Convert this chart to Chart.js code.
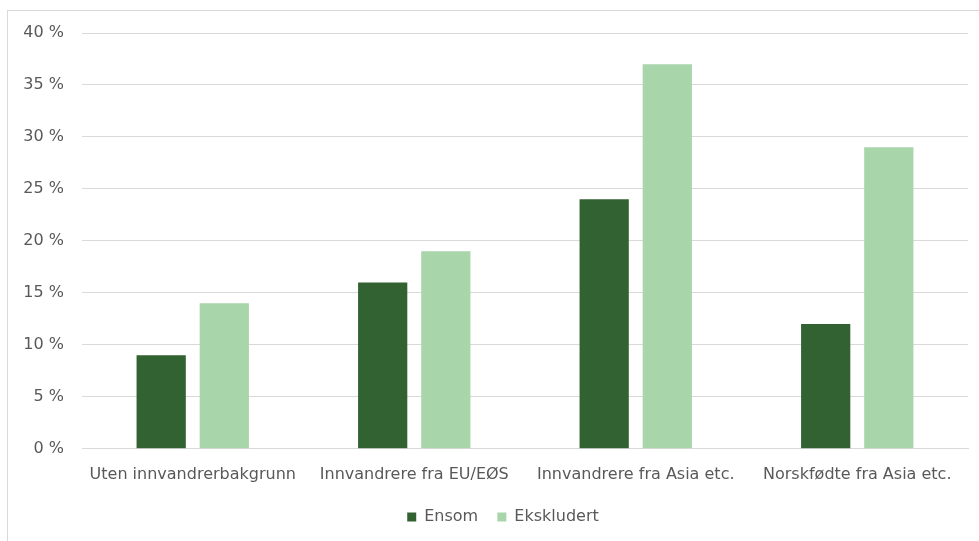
<!DOCTYPE html>
<html lang="no">
<head>
    <meta charset="UTF-8">
    <title>Ensom og ekskludert</title>
    <script src="https://cdn.jsdelivr.net/npm/chart.js"></script>
    <style>
        body {
            margin: 0;
            background: #ffffff;
            overflow: hidden;
        }
        #wrap {
            position: relative;
            width: 1006px;
            height: 541px;
        }
        #frame {
            position: absolute;
            left: 7px;
            top: 10px;
            width: 990px;
            height: 540px;
            border: 1px solid #d9d9d9;
        }
    </style>
</head>
<body>

<div id="wrap">
    <div id="frame"></div>
    <canvas id="chart"></canvas>
</div>

<script>
    // values in percent
    const categories = ['Uten innvandrerbakgrunn', 'Innvandrere fra EU/EØS', 'Innvandrere fra Asia etc.', 'Norskfødte fra Asia etc.'];
    const ensom = [9, 16, 24, 12];
    const ekskludert = [14, 19, 37, 29];
    const seriesNames = ['Ensom', 'Ekskludert'];

    Chart.defaults.font.family = "'DejaVu Sans', Verdana, sans-serif";
    Chart.defaults.color = '#595959';

    // nudge the legend a bit to the right, like the original
    const legendShift = {
        id: 'legendShift',
        afterLayout: function(chart) {
            chart.legend.left += 14;
            chart.legend.right += 14;
        }
    };

    new Chart(document.getElementById('chart'), {
        type: 'bar',
        data: {
            labels: categories,
            datasets: [{
                label: seriesNames[0],
                data: ensom,
                backgroundColor: '#326231',
                categoryPercentage: 0.57,
                barPercentage: 0.78
            }, {
                label: seriesNames[1],
                data: ekskludert,
                backgroundColor: '#a9d5aa',
                categoryPercentage: 0.57,
                barPercentage: 0.78
            }]
        },
        plugins: [legendShift],
        options: {
            responsive: true,
            maintainAspectRatio: false,
            animation: false,
            layout: {
                padding: { left: 10, right: 38, top: 33, bottom: 6 }
            },
            plugins: {
                tooltip: { enabled: false },
                legend: {
                    position: 'bottom',
                    labels: {
                        boxWidth: 9,
                        boxHeight: 9,
                        padding: 9,
                        font: { size: 16 },
                        generateLabels: function(chart) {
                            // a little extra room between the two legend entries
                            const items = Chart.defaults.plugins.legend.labels.generateLabels(chart);
                            items.forEach(function(it, i) {
                                if (i < items.length - 1) it.text = it.text + '  ';
                            });
                            return items;
                        }
                    }
                }
            },
            scales: {
                x: {
                    grid: { display: false, drawTicks: false },
                    border: { color: '#d9d9d9' },
                    ticks: {
                        padding: 16,
                        font: { size: 16 },
                        maxRotation: 0
                    }
                },
                y: {
                    min: 0,
                    max: 40,
                    afterFit: function(scale) { scale.width = 72; },
                    grid: { color: '#d9d9d9', drawTicks: false },
                    border: { display: false },
                    ticks: {
                        stepSize: 5,
                        padding: 18,
                        font: { size: 16 },
                        callback: function(v) { return v + ' %'; }
                    }
                }
            }
        }
    });
</script>

</body>
</html>
